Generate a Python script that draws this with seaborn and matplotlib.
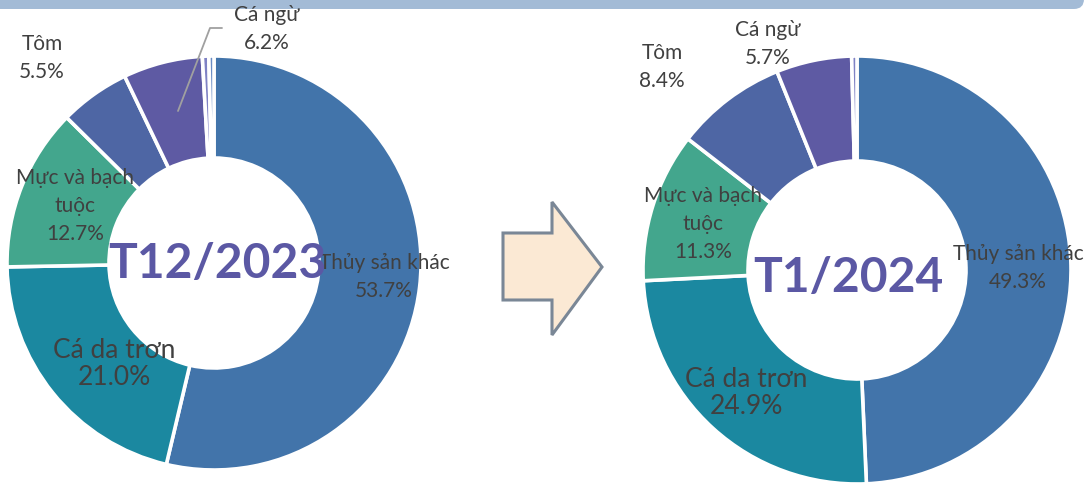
import matplotlib
matplotlib.use("Agg")
import matplotlib.pyplot as plt
from matplotlib.patches import FancyBboxPatch, Polygon
import seaborn as sns

# Export structure by product group (share of value, %)
categories = ["Thủy sản khác", "Cá da trơn", "Mực và bạch tuộc", "Tôm", "Cá ngừ", "Khác 1", "Khác 2"]
share_dec_2023 = [53.7, 21.0, 12.7, 5.5, 6.2, 0.5, 0.4]
share_jan_2024 = [49.3, 24.9, 11.3, 8.4, 5.7, 0.4]
period_labels = ["T12/2023", "T1/2024"]
label_names = ["Thủy sản khác", "Cá da trơn", "Mực và bạch\ntuộc", "Tôm", "Cá ngừ"]

palette = sns.color_palette(["#4274aa", "#1b88a0", "#43a68d", "#4e66a4", "#5e5aa3",
                             "#7f82c4", "#6a8cc4"])

sns.set_theme(style="white")
plt.rcParams["font.family"] = ["Lato", "DejaVu Sans"]

W, H = 1092, 486
fig = plt.figure(figsize=(W / 100, H / 100), dpi=100)
ax = fig.add_axes([0, 0, 1, 1])

TEXT = "#404040"
CENTER = "#5b58a4"


def py(y):
    # image-style y (from the top) to axis y
    return H - y


def donut(values, cx, cy, r_out, r_in):
    ax.pie(values, colors=palette[:len(values)], startangle=90, counterclock=False,
           radius=r_out, center=(cx, py(cy)),
           wedgeprops=dict(width=r_out - r_in, edgecolor="white", linewidth=2.6))


# left donut: December 2023
donut(share_dec_2023, 214, 263, 207, 105)
# right donut: January 2024
donut(share_jan_2024, 857, 270, 214, 109)

ax.set_xlim(0, W)
ax.set_ylim(0, H)
ax.set_aspect("auto")
ax.axis("off")


def label(x, y, name, value, size=15, spacing=1.5):
    ax.text(x, py(y), f"{name}\n{value:.1f}%", ha="center", va="center",
            fontsize=size, color=TEXT, linespacing=spacing)


# labels, left donut
label(384, 277, label_names[0], share_dec_2023[0])
label(114, 364, label_names[1], share_dec_2023[1], size=19, spacing=1.1)
label(75, 206, label_names[2], share_dec_2023[2])
label(42, 58, label_names[3], share_dec_2023[3])
label(267, 29, label_names[4], share_dec_2023[4])
ax.plot([222, 210, 178], [py(28), py(28), py(111)], color="#a0a0a0", lw=1.3)

# labels, right donut
label(1018, 268, label_names[0], share_jan_2024[0])
label(746, 393, label_names[1], share_jan_2024[1], size=19, spacing=1.1)
label(703, 224, label_names[2], share_jan_2024[2])
label(662, 67, label_names[3], share_jan_2024[3])
label(768, 44, label_names[4], share_jan_2024[4])

# period titles in the holes
ax.text(217, py(264), period_labels[0], ha="center", va="center",
        fontsize=34.5, fontweight="bold", color=CENTER)
ax.text(848, py(278), period_labels[1], ha="center", va="center",
        fontsize=34.5, fontweight="bold", color=CENTER)

# arrow between the two periods
arrow = [(503, 233), (552, 233), (552, 202), (602, 267), (552, 335), (552, 300), (503, 300)]
ax.add_patch(Polygon([(x, py(y)) for x, y in arrow], closed=True,
                     facecolor="#fbe9d4", edgecolor="#7a8796", linewidth=2.2, joinstyle="miter"))

# banner strip along the top
ax.add_patch(FancyBboxPatch((-40, py(9)), 1124, 60,
                            boxstyle="round,pad=0,rounding_size=10",
                            facecolor="#a3bbd6", edgecolor="none", clip_on=True))

fig.savefig("out.png", dpi=100)
